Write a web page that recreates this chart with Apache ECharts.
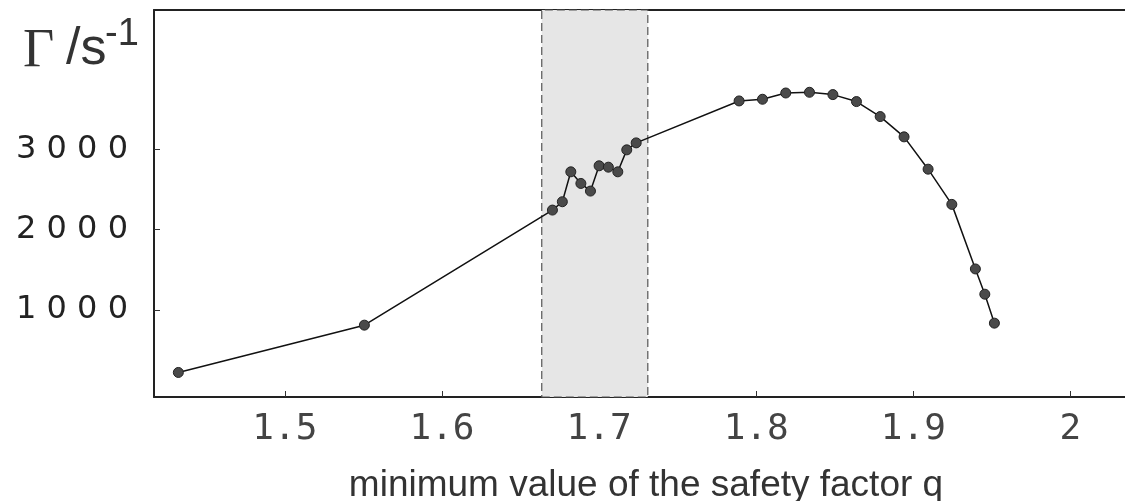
<!DOCTYPE html>
<html>
<head>
<meta charset="utf-8">
<script src="https://cdn.jsdelivr.net/npm/echarts@6/dist/echarts.min.js"></script>
<style>html,body{margin:0;padding:0;background:#fff;overflow:hidden;}#c{width:1125px;height:501px;}</style>
</head>
<body>
<div id="c"></div>
<script>
// minimum safety factor q
const qValues = [1.4322, 1.5506, 1.6703, 1.6766, 1.6820, 1.6884, 1.6945, 1.7000, 1.7059, 1.7119, 1.7176, 1.7236,
  1.7891, 1.8040, 1.8188, 1.8339, 1.8488, 1.8638, 1.8789, 1.8941, 1.9094, 1.9245, 1.9395, 1.9455, 1.9516];
// growth rate Gamma (1/s)
const gammaValues = [220, 810, 2245, 2349, 2722, 2577, 2482, 2797, 2780, 2722, 2996, 3083,
  3606, 3627, 3705, 3714, 3685, 3598, 3411, 3158, 2755, 2316, 1511, 1196, 835];
const xTicks = [1.5, 1.6, 1.7, 1.8, 1.9, 2];
const yTicks = [1000, 2000, 3000];
const shadeRange = [1.6635, 1.731];

const data = qValues.map((q, i) => [q, gammaValues[i]]);
const chart = echarts.init(document.getElementById('c'), null, {renderer: 'canvas'});
const X_MIN = 1.4167, X_MAX = 2.0430;
chart.setOption({
  animation: false,
  backgroundColor: '#fff',
  grid: {left: 154, top: 10, right: -13, bottom: 104, show: false, containLabel: false, outerBoundsMode: 'none'},
  xAxis: [{
    type: 'value', min: X_MIN, max: X_MAX,
    name: 'minimum value of the safety factor q', nameLocation: 'middle', nameGap: 70,
    nameTextStyle: {fontFamily: 'Liberation Sans', fontSize: 37, color: '#333'},
    axisLine: {show: true, onZero: false, lineStyle: {color: '#222', width: 2}},
    axisTick: {show: true, inside: true, length: 6, customValues: xTicks, lineStyle: {color: '#333', width: 1}},
    axisLabel: {customValues: xTicks, margin: 15, fontFamily: 'DejaVu Sans Mono', fontSize: 36, color: '#444',
      formatter: v => (v === 2 ? '2' : v.toFixed(1))},
    splitLine: {show: false}
  }, {
    type: 'value', min: X_MIN, max: X_MAX, position: 'top',
    axisLine: {show: true, onZero: false, lineStyle: {color: '#222', width: 2}},
    axisTick: {show: false}, axisLabel: {show: false}, splitLine: {show: false}
  }],
  yAxis: {
    type: 'value', min: -86, max: 4740,
    axisLine: {show: true, onZero: false, lineStyle: {color: '#222', width: 2}},
    axisTick: {show: true, inside: true, length: 6, customValues: yTicks, lineStyle: {color: '#333', width: 1}},
    axisLabel: {customValues: yTicks, margin: 26, fontFamily: 'DejaVu Sans', fontSize: 32, color: '#222',
      formatter: v => String(v).split('').join(' ')},
    splitLine: {show: false}
  },
  graphic: [
    {type: 'text', left: 23, top: 25, style: {text: 'Γ', font: '54px "Liberation Serif"', fill: '#333'}},
    {type: 'text', left: 66, top: 24, style: {text: '/s', font: '52px "Liberation Sans"', fill: '#333'}},
    {type: 'text', left: 105, top: 16, style: {text: '-1', font: '38px "Liberation Sans"', fill: '#333'}},
    {type: 'rect', z: 100, left: 1119, top: 12, shape: {width: 6, height: 383}, style: {fill: '#fff'}}
  ],
  series: [{
    type: 'line', data: data, xAxisIndex: 0,
    symbol: 'circle', symbolSize: 10,
    itemStyle: {color: '#4a4a4a', borderColor: '#222', borderWidth: 1},
    lineStyle: {color: '#111', width: 1.5},
    markArea: {
      silent: true,
      itemStyle: {color: '#e6e6e6', borderColor: '#555', borderWidth: 1.2, borderType: [8, 4]},
      data: [[{xAxis: shadeRange[0]}, {xAxis: shadeRange[1]}]]
    }
  }]
});
</script>
</body>
</html>
